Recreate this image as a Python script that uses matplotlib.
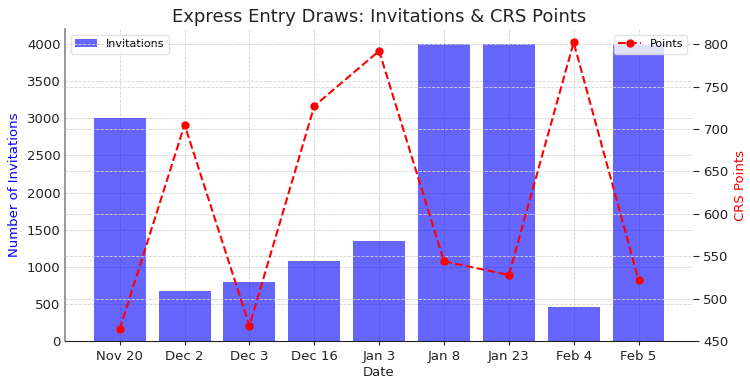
import matplotlib
matplotlib.use("Agg")
import matplotlib.pyplot as plt
import numpy as np

dates = ["Nov 20", "Dec 2", "Dec 3", "Dec 16", "Jan 3", "Jan 8", "Jan 23", "Feb 4", "Feb 5"]
invitations = [3000, 675, 795, 1085, 1350, 4000, 4000, 455, 4000]
crs_points = [464, 705, 468, 727, 792, 544, 528, 802, 522]

fig = plt.figure(figsize=(7.5, 3.85), dpi=100)
ax = fig.add_axes([0.087, 0.114, 0.837, 0.81])
x = np.arange(len(dates))

ax.bar(x, invitations, width=0.8, color="blue", alpha=0.6, label="Invitations", zorder=2)
ax.set_ylim(0, 4200)
ax.set_xticks(x)
ax.set_xticklabels(dates, fontsize=9.5, color="#222222")
ax.set_yticks(np.arange(0, 4001, 500))
ax.tick_params(axis="y", labelsize=9.5, length=0, labelcolor="#222222")
ax.tick_params(axis="x", length=3, color="#222222")
ax.set_xlabel("Date", fontsize=9.5, color="#222222", labelpad=2)
ax.set_ylabel("Number of Invitations", fontsize=9.5, color="blue")
ax.grid(True, linestyle="--", color="#d4d4d4", linewidth=0.6, zorder=0)
ax.set_axisbelow(True)
for s in ["top", "right"]:
    ax.spines[s].set_visible(False)
ax.spines["left"].set_color("#888888")
ax.spines["left"].set_linewidth(1.2)
ax.spines["bottom"].set_color("#222222")
ax.legend(loc="upper left", fontsize=8, framealpha=0.8, edgecolor="#dddddd")

ax2 = ax.twinx()
ax2.plot(x, crs_points, color="red", linestyle="--", marker="o", markersize=5,
         linewidth=1.5, label="Points")
ax2.set_ylim(450, 817.5)
ax2.set_yticks(np.arange(450, 801, 50))
ax2.tick_params(axis="y", labelsize=9.5, length=4, labelcolor="#222222", color="#222222")
ax2.set_ylabel("CRS Points", fontsize=9.5, color="red")
ax2.grid(True, linestyle="--", color="#d4d4d4", linewidth=0.6)
for s in ["top", "right", "left", "bottom"]:
    ax2.spines[s].set_visible(False)
ax2.legend(loc="upper right", fontsize=8, framealpha=0.8, edgecolor="#dddddd")

ax.set_title("Express Entry Draws: Invitations & CRS Points", fontsize=13, color="#222222", pad=5)

fig.savefig("out.png", dpi=100)
